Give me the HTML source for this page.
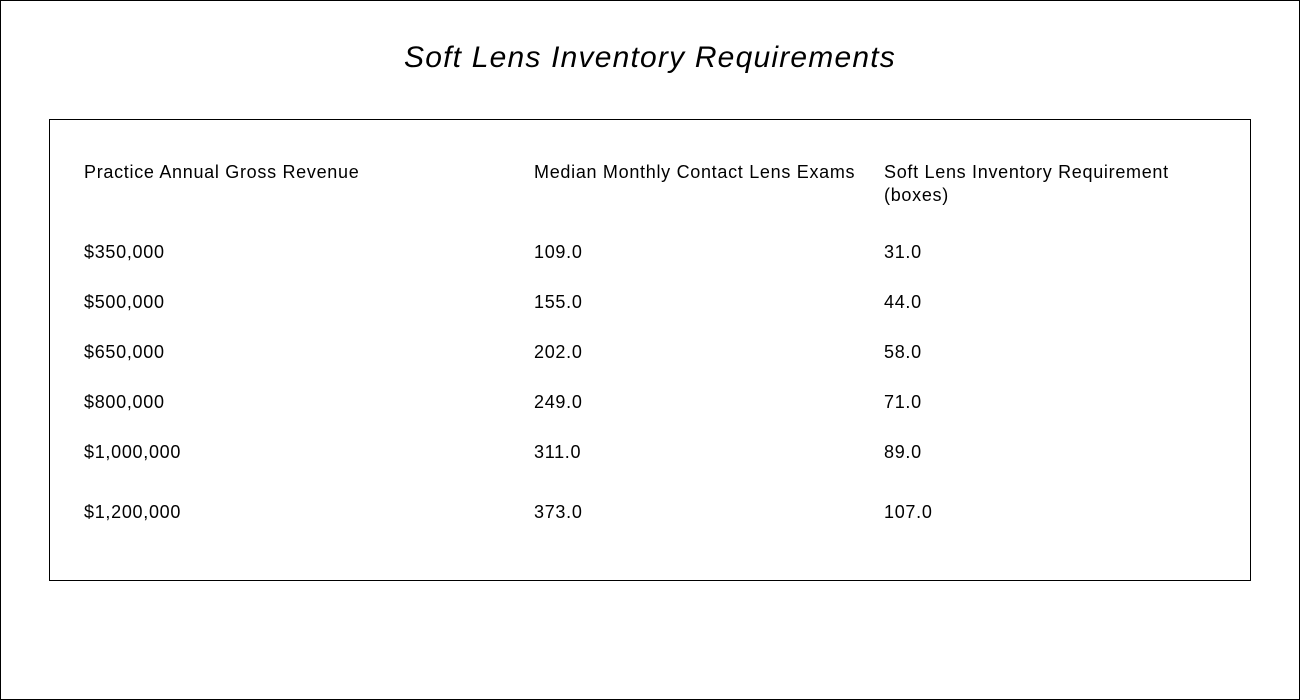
<!DOCTYPE html>
<html>
<head>
<meta charset="utf-8">
<style>
  html, body { margin:0; padding:0; background:#fff; }
  #page { position:relative; width:1300px; height:700px; box-sizing:border-box; border:1px solid #000; overflow:hidden; font-family:"Liberation Sans", Arial, sans-serif; color:#000; }
  #title { position:absolute; left:0; width:1298px; top:39px; text-align:center; font-size:30px; letter-spacing:1.2px; font-style:italic; line-height:36px; }
  #box { position:absolute; left:48px; top:118px; width:1202px; height:462px; box-sizing:border-box; border:1px solid #000; }
  .cell { position:absolute; font-size:18px; letter-spacing:0.7px; line-height:23px; white-space:nowrap; }
</style>
</head>
<body>
<div id="page">
  <div id="title">Soft Lens Inventory Requirements</div>
  <div id="box"></div>
  <div class="cell" style="left:83px;top:160px">Practice Annual Gross Revenue</div>
  <div class="cell" style="left:533px;top:160px">Median Monthly Contact Lens Exams</div>
  <div class="cell" style="left:883px;top:160px">Soft Lens Inventory Requirement<br>(boxes)</div>
</div>
<script>
const revenues = ["$350,000","$500,000","$650,000","$800,000","$1,000,000","$1,200,000"];
const exams = [109.0,155.0,202.0,249.0,311.0,373.0];
const inventory = [31.0,44.0,58.0,71.0,89.0,107.0];
const rowTops = [240,290,340,390,440,500];
const page = document.getElementById('page');
function addCell(text, left, top, name) {
  const el = document.createElement('div');
  el.className = 'cell';
  el.style.left = left + 'px';
  el.style.top = top + 'px';
  el.textContent = text;
  
  
  page.appendChild(el);
}
revenues.forEach((r, i) => {
  addCell(r, 83, rowTops[i], 'revenue-cell');
  addCell(exams[i].toFixed(1), 533, rowTops[i], 'exams-cell');
  addCell(inventory[i].toFixed(1), 883, rowTops[i], 'inventory-cell');
});
</script>
</body>
</html>
